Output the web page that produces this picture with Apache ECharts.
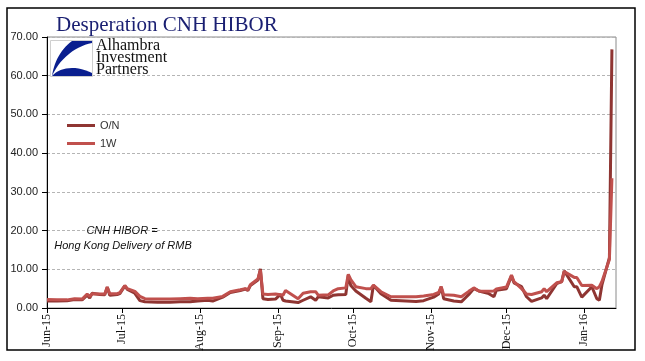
<!DOCTYPE html>
<html>
<head>
<meta charset="utf-8">
<script src="https://cdn.jsdelivr.net/npm/echarts@6/dist/echarts.min.js"></script>
<style>html,body{margin:0;padding:0;background:#fff}#c{width:645px;height:361px}</style>
</head>
<body>
<div id="c"></div>
<script>
// ---- data ----
const dates = ['2015-06-01','2015-06-05','2015-06-09','2015-06-12','2015-06-15','2015-06-17','2015-06-18','2015-06-19','2015-06-22','2015-06-24','2015-06-25','2015-06-26','2015-06-29','2015-06-30','2015-07-02','2015-07-03','2015-07-06','2015-07-08','2015-07-10','2015-07-15','2015-07-20','2015-07-24','2015-07-28','2015-07-31','2015-08-04','2015-08-06','2015-08-10','2015-08-13','2015-08-17','2015-08-19','2015-08-20','2015-08-21','2015-08-24','2015-08-25','2015-08-26','2015-08-28','2015-08-31','2015-09-02','2015-09-03','2015-09-04','2015-09-09','2015-09-11','2015-09-14','2015-09-16','2015-09-17','2015-09-21','2015-09-23','2015-09-25','2015-09-28','2015-09-29','2015-09-30','2015-10-02','2015-10-06','2015-10-08','2015-10-09','2015-10-12','2015-10-16','2015-10-26','2015-10-29','2015-11-02','2015-11-04','2015-11-05','2015-11-06','2015-11-10','2015-11-13','2015-11-16','2015-11-18','2015-11-20','2015-11-24','2015-11-26','2015-11-27','2015-12-01','2015-12-03','2015-12-04','2015-12-07','2015-12-09','2015-12-11','2015-12-15','2015-12-16','2015-12-17','2015-12-21','2015-12-23','2015-12-24','2015-12-28','2015-12-29','2015-12-31','2016-01-04','2016-01-06','2016-01-07','2016-01-08','2016-01-11','2016-01-12'];
const overnight = [1.8,1.8,1.9,2.2,2.1,3.3,2.6,3.8,3.5,3.4,5.4,3.3,3.5,3.7,5.7,4.8,3.8,1.9,1.6,1.5,1.5,1.6,1.6,1.8,2.0,1.8,2.8,4.0,4.5,4.9,4.5,5.8,7.2,10.1,2.4,2.2,2.3,3.5,2.0,1.8,1.4,2.0,2.9,2.0,2.9,2.6,3.3,3.4,3.5,8.5,5.8,4.4,2.5,1.6,5.9,3.7,2.0,1.7,1.9,2.8,3.6,5.5,2.4,1.8,1.6,3.5,5.0,4.4,3.7,2.9,4.6,5.0,8.3,6.5,5.5,2.9,1.7,2.6,3.3,2.4,6.3,6.8,9.6,5.5,5.5,2.8,5.5,2.4,2.0,5.9,13.0,66.8];
const oneWeek   = [2.2,2.1,2.1,2.4,2.3,3.6,3.0,3.7,3.6,3.6,5.4,3.7,3.7,4.0,5.8,5.0,4.3,3.0,2.4,2.3,2.3,2.4,2.5,2.4,2.5,2.5,3.0,4.2,4.7,5.0,4.7,6.0,7.5,9.8,3.6,3.5,3.6,3.4,3.3,4.5,2.4,3.8,4.2,4.2,3.3,3.4,4.4,5.0,5.2,8.7,7.3,5.5,5.0,5.0,5.9,4.2,2.9,2.9,3.1,3.5,4.0,5.5,3.4,3.3,2.9,4.3,5.2,4.4,4.3,4.4,4.9,5.4,8.5,6.8,5.0,3.6,3.5,4.2,5.0,4.2,6.5,6.8,9.4,7.9,7.9,5.8,5.9,5.0,5.5,6.8,12.5,33.5];
const seriesNames = ['O/N','1W'];
const monthStarts = ['2015-06-01','2015-07-01','2015-08-01','2015-09-01','2015-10-01','2015-11-01','2015-12-01','2016-01-01'];
const monthLabels = ['Jun-15','Jul-15','Aug-15','Sep-15','Oct-15','Nov-15','Dec-15','Jan-16'];
const yTicks = [0,10,20,30,40,50,60,70];

function ts(s){ const p = s.split('-').map(Number); return Date.UTC(p[0], p[1]-1, p[2]); }
const monthTs = monthStarts.map(ts);

// logo helper: sample a cubic bezier into polygon points
function bez(p0,p1,p2,p3,n){ const out=[]; for(let i=0;i<=n;i++){const t=i/n,u=1-t;
  out.push([u*u*u*p0[0]+3*u*u*t*p1[0]+3*u*t*t*p2[0]+t*t*t*p3[0], u*u*u*p0[1]+3*u*u*t*p1[1]+3*u*t*t*p2[1]+t*t*t*p3[1]]);} return out; }
const sail = [[72,41],[92,41],[92,43]].concat(bez([92,43],[76,46],[60,58],[52,76],14)).concat(bez([52,76],[54,62],[61,49],[72,41],14));
const wedge = bez([52,76],[60,67],[76,65],[92,73],14).concat([[92,76]]);

const chart = echarts.init(document.getElementById('c'), null, {renderer:'canvas'});
const option = {
  animation: false,
  backgroundColor: '#fff',
  title: {
    text: 'Desperation CNH HIBOR', left: 51, top: 10,
    textStyle: {fontFamily: 'Liberation Serif', fontSize: 21, fontWeight: 'normal', color: '#1a1f72'}
  },
  legend: {
    orient: 'vertical', left: 67, top: 119, itemGap: 5, padding: 0,
    icon: 'rect', itemWidth: 28, itemHeight: 3,
    textStyle: {fontFamily: 'Liberation Sans', fontSize: 11, color: '#333', lineHeight: 13},
    data: seriesNames
  },
  grid: {left: 47, top: 37, right: 29, bottom: 53, show: true, borderColor: '#8a8a8a', borderWidth: 1},
  xAxis: {
    type: 'value',
    min: ts('2015-06-01'), max: ts('2016-01-13') + 15*3600*1000,
    axisLine: {show: true, onZero: false, lineStyle: {color: '#000', width: 1}},
    axisTick: {show: true, length: 5, customValues: monthTs, lineStyle: {color: '#000'}},
    axisLabel: {
      customValues: monthTs, rotate: 90, margin: 6,
      fontFamily: 'Liberation Serif', fontSize: 12, color: '#111',
      formatter: function (v) { const i = monthTs.indexOf(v); return i >= 0 ? monthLabels[i] : ''; }
    },
    splitLine: {show: false}
  },
  yAxis: {
    type: 'value', min: yTicks[0], max: yTicks[yTicks.length-1], interval: 10,
    axisLine: {show: true, lineStyle: {color: '#000', width: 1}},
    axisTick: {show: true, length: 5, inside: false, lineStyle: {color: '#000'}},
    axisLabel: {margin: 9, fontFamily: 'Liberation Sans Narrow, Liberation Sans', fontSize: 11, color: '#222',
      formatter: function (v) { return v.toFixed(2); }},
    splitLine: {show: true, lineStyle: {color: '#b5b5b5', type: [3,2], width: 1}}
  },
  series: [
    {name: seriesNames[0], type: 'line', showSymbol: false, symbol: 'none', color: '#8f3532',
     lineStyle: {width: 3, color: '#8f3532'}, data: dates.map((d,i) => [ts(d), overnight[i]])},
    {name: seriesNames[1], type: 'line', showSymbol: false, symbol: 'none', color: '#c0504d',
     lineStyle: {width: 3, color: '#c0504d'}, data: dates.map((d,i) => [ts(d), oneWeek[i]])}
  ],
  graphic: [
    {type: 'rect', shape: {x: 7, y: 8, width: 628, height: 342}, style: {fill: 'none', stroke: '#000', lineWidth: 1.5}, z: 100},
    {type: 'rect', shape: {x: 50.5, y: 40.5, width: 42, height: 36}, style: {fill: '#fff', stroke: '#cfcfcf', lineWidth: 1}, z: 100},
    {type: 'polygon', shape: {points: sail}, style: {fill: '#0a1f8f'}, z: 101},
    {type: 'polygon', shape: {points: wedge}, style: {fill: '#0a1f8f'}, z: 101},
    {type: 'text', x: 96, y: 40, z: 101, style: {text: 'Alhambra\nInvestment\nPartners', font: '16px "Liberation Serif"', lineHeight: 12, fill: '#111'}},
    {type: 'text', x: 122, y: 231, z: 101, style: {text: 'CNH HIBOR =', font: 'italic 11px "Liberation Sans"', fill: '#111', align: 'center', verticalAlign: 'middle'}},
    {type: 'text', x: 123, y: 246, z: 101, style: {text: 'Hong Kong Delivery of RMB', font: 'italic 11px "Liberation Sans"', fill: '#111', align: 'center', verticalAlign: 'middle'}}
  ]
};
chart.setOption(option);
</script>
</body>
</html>
